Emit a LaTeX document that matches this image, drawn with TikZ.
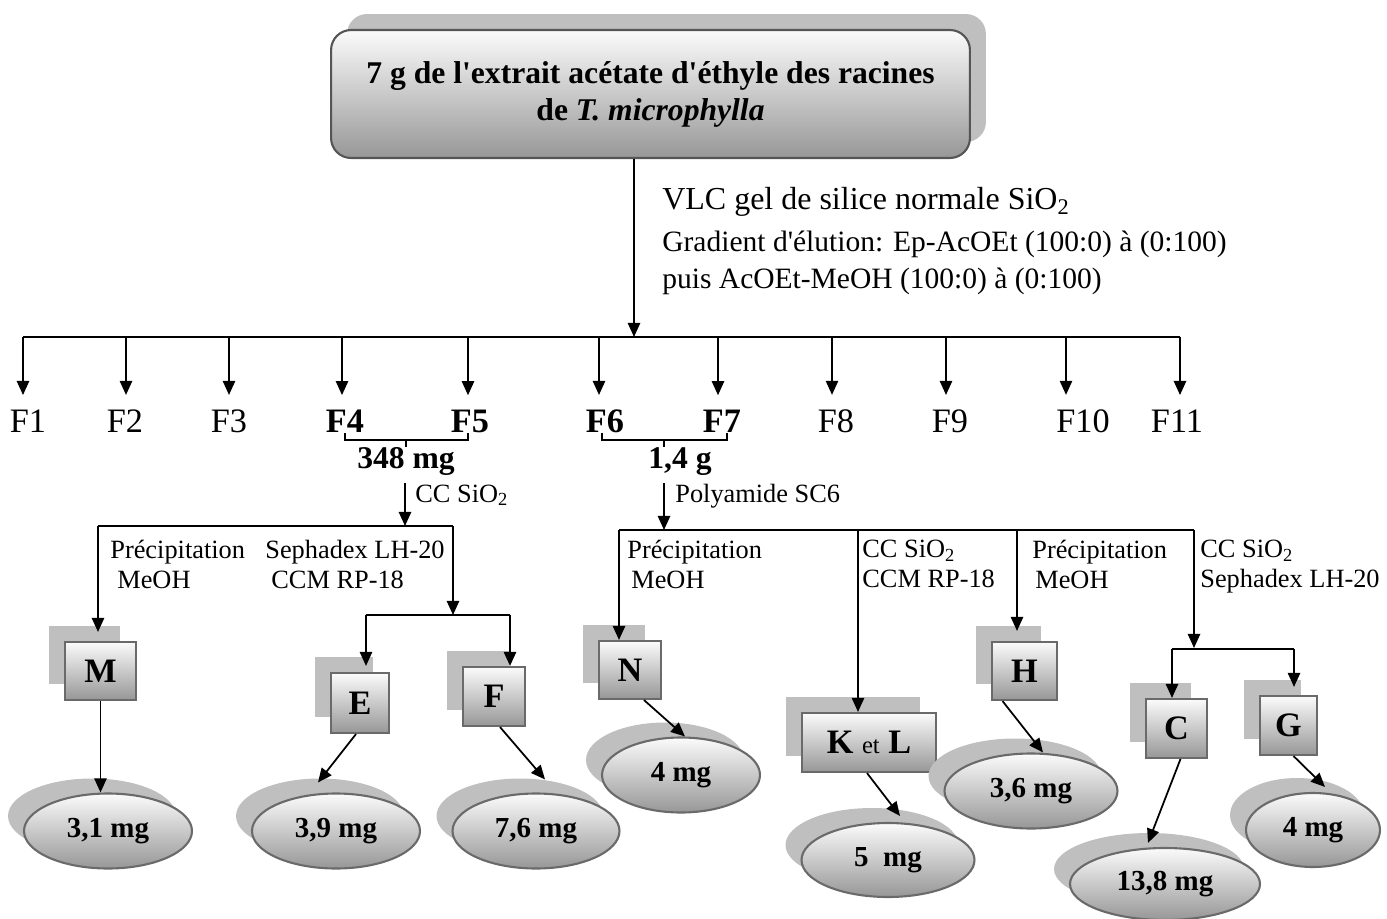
\documentclass[tikz,border=0pt]{standalone}
\usepackage{fontspec}
\setmainfont{Liberation Serif}
\usepackage{tikz}
\usetikzlibrary{arrows.meta,positioning,calc,shapes.geometric,shadows}
\definecolor{ink}{HTML}{000000}
\definecolor{shade}{HTML}{BFBFBF}
\definecolor{rim}{HTML}{6A6A6A}
\definecolor{toptone}{HTML}{FBFBFB}
\definecolor{lowtone}{HTML}{979797}
\newcommand{\fsz}[2]{\fontsize{#1}{#2}\selectfont}

\begin{document}
\begin{tikzpicture}[x=0.02cm,y=-0.02cm,
  ln/.style={line width=1pt,ink},
  arr/.style={ln,-{Triangle[length=8pt,width=7pt]}},
  sbox/.style={rectangle,draw=rim,line width=1.2pt,top color=toptone,bottom color=lowtone,
    font=\fsz{19.5}{21}\bfseries,inner sep=0pt,
    general shadow={fill=shade,shadow xshift=-0.32cm,shadow yshift=0.32cm}},
  yield/.style={ellipse,draw=rim,line width=1.2pt,top color=toptone,bottom color=lowtone,
    font=\fsz{16.5}{18}\bfseries,inner sep=0pt,minimum height=1.5cm,
    general shadow={fill=shade,shadow xshift=-0.32cm,shadow yshift=0.3cm}},
  frac/.style={inner sep=0pt,anchor=base},
  note/.style={font=\fsz{15}{17},inner sep=0pt,align=left,anchor=north west}]
  \useasboundingbox (0,0) rectangle (1387,919);

  % extract
  \node[rounded corners=0.4cm,draw=rim!80!black,line width=1.2pt,top color=toptone,bottom color=lowtone,
    minimum width=12.78cm,minimum height=2.56cm,align=center,font=\fsz{18}{21}\bfseries,
    general shadow={fill=shade,shadow xshift=0.32cm,shadow yshift=0.32cm}] (src) at (650.5,94)
    {7 g de l\textquotesingle extrait acétate d\textquotesingle éthyle des racines\\de \textit{T. microphylla}\\[-0.62cm]};
  \coordinate (split) at (634,337);
  \draw[arr] (src.south -| split) -- (split);
  \node[font=\fsz{18.2}{20},anchor=base west,inner sep=0pt] (vlc) at (662,210) {VLC gel de silice normale SiO\textsubscript{2}};
  \node[font=\fsz{16.8}{19},anchor=base west,inner sep=0pt] (grad) at (662,252) {Gradient d\textquotesingle élution: Ep-AcOEt (100:0) à (0:100)};
  \node[font=\fsz{16.8}{19},anchor=base west,inner sep=0pt] (puis) at (662,288) {puis AcOEt-MeOH (100:0) à (0:100)};

  % fractions
  \coordinate (barL) at (23,337);
  \coordinate (barR) at (1180,337);
  \draw[ln] (barL) -- (barR);
  \foreach \n/\ax/\lx/\wt in {1/23/28/\mdseries,2/126/125/\mdseries,3/229/229/\mdseries,4/342/345/\bfseries,
      5/468/470/\bfseries,6/599/605/\bfseries,7/718/722/\bfseries,8/832/836/\mdseries,
      9/946/950/\mdseries,10/1066/1083/\mdseries,11/1180/1177/\mdseries}{
    \node[frac,font=\fsz{19.5}{21}\wt] (F\n) at (\lx,432) {F\n};
    \coordinate (t\n) at (\ax,337);
    \draw[arr] (t\n) -- ($(t\n |- F\n.north)+(0,-14)$);
  }
  \draw[ln] (345,433) |- (468,440) -- (468,433);
  \draw[ln] (406,440) -- (406,447);
  \draw[ln] (602,433) |- (727,440) -- (727,433);
  \draw[ln] (664,440) -- (664,447);
  \node[frac,font=\fsz{18}{20}\bfseries] (w45) at (406,468) {348 mg};
  \node[frac,font=\fsz{18}{20}\bfseries] (w67) at (680,468) {1,4 g};

  % F4+F5
  \coordinate (lsplit) at (405,526);
  \draw[arr] ($(w45.south -| lsplit)+(0,8)$) -- (lsplit);
  \node[font=\fsz{15}{17},anchor=base west,inner sep=0pt] (cc1) at (415,502) {CC SiO\textsubscript{2}};
  \coordinate (lbL) at (98,526);
  \coordinate (lbR) at (453,526);
  \draw[ln] (lbL) -- (lbR);
  \node[note] (p1) at (110,540) {Précipitation\\\hspace*{0.14cm}MeOH};
  \node[note] (s1) at (265,540) {Sephadex LH-20\\\hspace*{0.12cm}CCM RP-18};
  \node[sbox,minimum width=1.42cm,minimum height=1.16cm] (M) at (100.5,671) {M};
  \node[sbox,minimum width=1.16cm,minimum height=1.2cm] (E) at (360,703) {E};
  \node[sbox,minimum width=1.24cm,minimum height=1.18cm] (F) at (494,696.5) {F};
  \draw[arr] (lbL) -- ($(lbL |- M.north)+(0,-9)$);
  \coordinate (efsplit) at (453,615);
  \draw[arr] (lbR) -- (efsplit);
  \coordinate (efL) at (366,615);
  \coordinate (efR) at (510,615);
  \draw[ln] (efL) -- (efR);
  \draw[arr] (efL) -- ($(efL |- E.north)+(0,-6)$);
  \draw[arr] (efR) -- (efR |- F.north);

  % F6+F7
  \coordinate (rsplit) at (664,530);
  \draw[arr] ($(w67.south -| rsplit)+(0,8)$) -- (rsplit);
  \node[font=\fsz{15}{17},anchor=base west,inner sep=0pt] (poly) at (675,502) {Polyamide SC6};
  \coordinate (rbL) at (619,530);
  \coordinate (kb) at (858,530);
  \coordinate (hb) at (1017,530);
  \coordinate (rbR) at (1194,530);
  \draw[ln] (rbL) -- (rbR);
  \node[note] (p2) at (627,540) {Précipitation\\\hspace*{0.08cm}MeOH};
  \node[note] (c2) at (862,540) {CC SiO\textsubscript{2}\\CCM RP-18};
  \node[note] (p3) at (1032,540) {Précipitation\\\hspace*{0.06cm}MeOH};
  \node[note] (c3) at (1200,540) {CC SiO\textsubscript{2}\\Sephadex LH-20};
  \node[sbox,minimum width=1.24cm,minimum height=1.16cm] (N) at (630,670) {N};
  \node[sbox,minimum width=2.68cm,minimum height=1.18cm] (KL) at (869,742.5) {K {\mdseries\fsz{14}{16}et} L};
  \node[sbox,minimum width=1.3cm,minimum height=1.16cm] (H) at (1024.5,671) {H};
  \node[sbox,minimum width=1.22cm,minimum height=1.18cm] (C) at (1176.5,728.5) {C};
  \node[sbox,minimum width=1.14cm,minimum height=1.18cm] (G) at (1288.5,725.5) {G};
  \draw[arr] (rbL) -- (rbL |- N.north);
  \draw[arr] (kb) -- (kb |- KL.north);
  \draw[arr] (hb) -- ($(hb |- H.north)+(0,-10)$);
  \coordinate (cgsplit) at (1194,648);
  \draw[arr] (rbR) -- (cgsplit);
  \coordinate (cgL) at (1172,649);
  \coordinate (cgR) at (1294,649);
  \draw[ln] (cgL) -- (cgR);
  \draw[arr] (cgL) -- (cgL |- C.north);
  \draw[arr] (cgR) -- ($(cgR |- G.north)+(0,-8)$);

  % yields
  \node[yield,minimum width=3.36cm] (e31) at (108,831) {3,1 mg};
  \node[yield,minimum width=3.36cm] (e39) at (336,831) {3,9 mg};
  \node[yield,minimum width=3.34cm] (e76) at (536,831) {7,6 mg};
  \node[yield,minimum width=3.16cm] (e4N) at (681,775) {4 mg};
  \node[yield,minimum width=3.46cm,minimum height=1.48cm] (e5) at (888,860) {5~~mg};
  \node[yield,minimum width=3.46cm] (e36) at (1031,791) {3,6 mg};
  \node[yield,minimum width=3.8cm,minimum height=1.44cm] (e138) at (1165,884) {13,8 mg};
  \node[yield,minimum width=2.68cm,minimum height=1.48cm] (e4G) at (1313,830) {4 mg};
  \draw[arr] (M.south) -- (M.south |- e31.north);
  \draw[arr] ($(E.south)+(-4,0)$) -- ($(e39.north)+(-18,-10)$);
  \draw[arr] ($(F.south)+(6,0)$) -- ($(e76.north)+(9,-13)$);
  \draw[arr] ($(N.south)+(14,0)$) -- ($(e4N.north)+(4,0)$);
  \draw[arr] ($(KL.south)+(-2,0)$) -- ($(e5.north)+(12,-6)$);
  \draw[arr] ($(H.south)+(-22,0)$) -- ($(e36.north)+(12,0)$);
  \draw[arr] ($(C.south)+(4,0)$) -- ($(e138.north)+(-17,-4)$);
  \draw[arr] ($(G.south)+(5,0)$) -- ($(e4G.north)+(12,-5)$);
\end{tikzpicture}
\end{document}
